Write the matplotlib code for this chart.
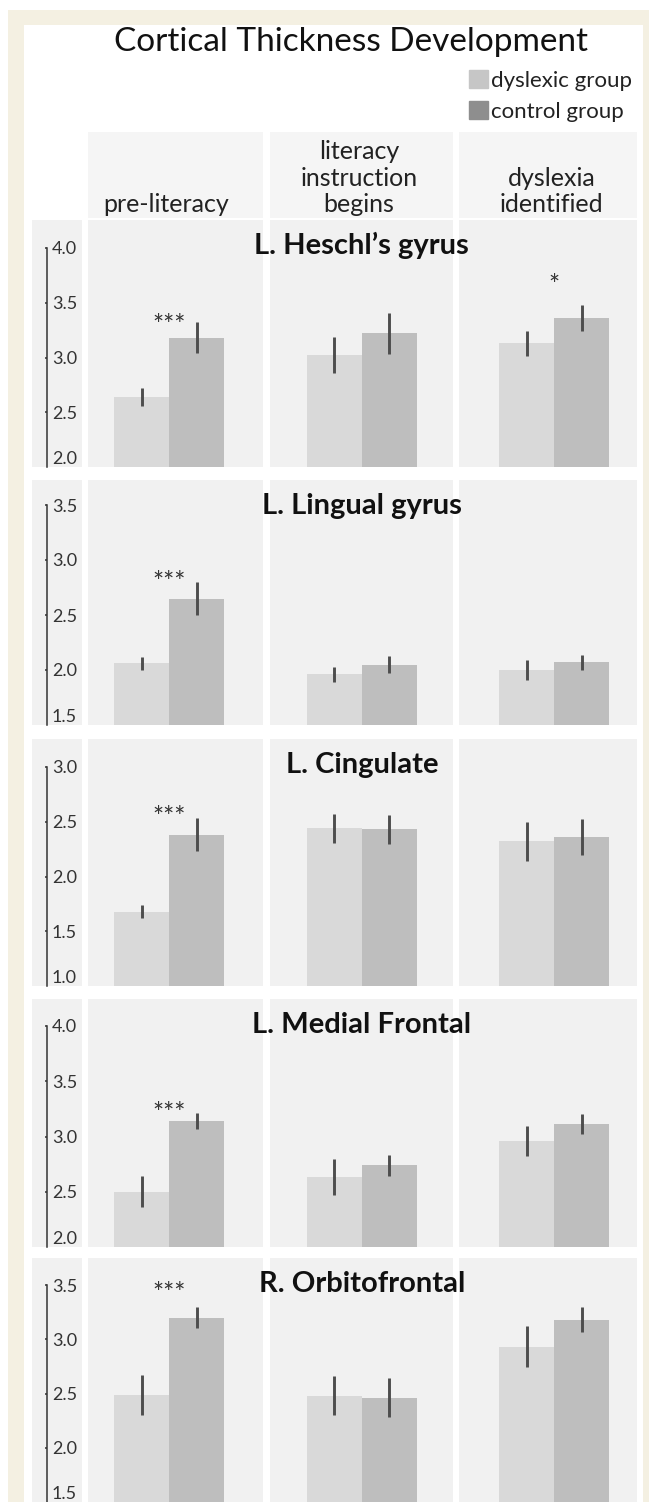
import matplotlib
matplotlib.use("Agg")
import matplotlib.pyplot as plt
import matplotlib.transforms as mtransforms
from matplotlib.patches import Rectangle, Patch
import numpy as np

plt.rcParams['font.family'] = ['Lato', 'DejaVu Sans']

W, H, DPI = 649, 1502, 100

# data
stages = ["pre-literacy", "literacy\ninstruction\nbegins", "dyslexia\nidentified"]
regions = ["L. Heschl\u2019s gyrus", "L. Lingual gyrus", "L. Cingulate",
           "L. Medial Frontal", "R. Orbitofrontal"]
groups = ["dyslexic group", "control group"]

dyslexic_mean = [[2.64, 3.02, 3.13],
                 [2.06, 1.96, 2.00],
                 [1.68, 2.44, 2.32],
                 [2.50, 2.635, 2.96],
                 [2.485, 2.48, 2.93]]
dyslexic_err = [[0.085, 0.165, 0.115],
                [0.06, 0.07, 0.09],
                [0.056, 0.135, 0.175],
                [0.14, 0.165, 0.136],
                [0.185, 0.18, 0.19]]
control_mean = [[3.18, 3.22, 3.36],
                [2.65, 2.05, 2.07],
                [2.38, 2.43, 2.36],
                [3.14, 2.74, 3.11],
                [3.20, 2.46, 3.18]]
control_err = [[0.14, 0.19, 0.12],
               [0.15, 0.08, 0.07],
               [0.15, 0.135, 0.165],
               [0.075, 0.097, 0.09],
               [0.10, 0.18, 0.115]]
y_ranges = [(2.0, 4.0), (1.5, 3.5), (1.0, 3.0), (2.0, 4.0), (1.5, 3.5)]
sig_marks = [["***", "", "*"], ["***", "", ""], ["***", "", ""],
             ["***", "", ""], ["***", "", ""]]
sig_y = [[3.36, None, 3.726], [2.864, None, None], [2.606, None, None],
         [3.279, None, None], [3.493, None, None]]

dys_color = "#d9d9d9"
ctl_color = "#bebebe"
legend_colors = ["#c6c6c6", "#8e8e8e"]
panel_color = "#f1f1f1"
head_color = "#f5f5f5"
ink = "#333333"

# layout in pixels
row_top = [220, 480, 739, 999, 1258]
row_tick_top = [248, 505, 767, 1026, 1285]
row_bottom = [467, 725, 986, 1247, 1502]
col_x = [(88, 263), (270, 453), (459, 637)]


def frect(x0, y0, x1, y1):
    return [x0 / W, 1 - y1 / H, (x1 - x0) / W, (y1 - y0) / H]


def bg(fig, x0, y0, x1, y1, color, z=-1):
    l, b, w, h = frect(x0, y0, x1, y1)
    fig.add_artist(Rectangle((l, b), w, h, transform=fig.transFigure,
                             color=color, zorder=z, lw=0))


fig = plt.figure(figsize=(W / DPI, H / DPI), dpi=DPI, facecolor="white")

# cream frame
bg(fig, 8, 10, 649, 1510, "#f4f0e2", z=-3)
bg(fig, 24, 25, 643, 1510, "white", z=-2)

# header panels
for x0, x1 in col_x:
    bg(fig, x0, 132, x1, 218, head_color)

fig.text(351 / W, 1 - 51 / H, "Cortical Thickness Development",
         ha="center", va="baseline", fontsize=24, color="#111111")

handles = [Patch(color=c) for c in legend_colors]
fig.legend(handles, groups, loc="upper left",
           bbox_to_anchor=(469 / W, 1 - 70 / H), frameon=False,
           borderpad=0, borderaxespad=0, handlelength=0.86,
           handleheight=0.9, handletextpad=0.15, labelspacing=0.45,
           prop={"size": 16}, labelcolor="#222222")

x = np.arange(3)
bw = 55 / 192.5
xlim = (-(169.3 - 88) / 192.5, 2 + (637 - 554.3) / 192.5)

for r in range(5):
    top, ttop, bot = row_top[r], row_tick_top[r], row_bottom[r]
    ymin, ymax = y_ranges[r]

    # panel backgrounds
    bg(fig, 32, top, 82, bot, panel_color)
    for x0, x1 in col_x:
        bg(fig, x0, top, x1, bot, panel_color)

    ax = fig.add_axes(frect(88, ttop, 637, bot))
    ax.set_facecolor("none")
    ax.set_xlim(*xlim)
    ax.set_ylim(ymin, ymax)
    for s in ax.spines.values():
        s.set_visible(False)
    ax.set_xticks([])
    ax.set_yticks([])

    ax.bar(x - bw / 2, dyslexic_mean[r], width=bw, color=dys_color, lw=0)
    ax.bar(x + bw / 2, control_mean[r], width=bw, color=ctl_color, lw=0)
    ax.errorbar(x - bw / 2, dyslexic_mean[r], yerr=dyslexic_err[r], fmt="none",
                ecolor="#4d4d4d", elinewidth=2.1, capsize=0)
    ax.errorbar(x + bw / 2, control_mean[r], yerr=control_err[r], fmt="none",
                ecolor="#4d4d4d", elinewidth=2.1, capsize=0)

    for i in range(3):
        if sig_marks[r][i]:
            ax.annotate(sig_marks[r][i], (i, sig_y[r][i]), xytext=(0, -6),
                        textcoords="offset points", ha="center", va="center",
                        fontsize=19, color=ink, annotation_clip=False)

    blend = mtransforms.blended_transform_factory(ax.transData, fig.transFigure)
    ax.text(1, 1 - (top + 34) / H, regions[r], transform=blend, ha="center",
            va="baseline", fontsize=21, fontweight="bold", color="#111111")

    if r == 0:
        for i, lab in enumerate(stages):
            ax.text(i - 0.015, 1 - 216 / H, lab, transform=blend, ha="center",
                    va="bottom", fontsize=18, color="#222222",
                    linespacing=1.18)

    # y axis: line with ticks to the left, labels to the right
    ay = fig.add_axes(frect(47, ttop, 48, bot))
    ay.set_facecolor("none")
    ay.set_ylim(ymin, ymax)
    ay.set_xticks([])
    for k in ["top", "right", "bottom"]:
        ay.spines[k].set_visible(False)
    ay.spines["left"].set_color(ink)
    ay.spines["left"].set_linewidth(1.1)
    ticks = np.arange(ymin, ymax + 0.01, 0.5)
    ay.set_yticks(ticks)
    ay.set_yticklabels([f"{t:.1f}" for t in ticks])
    ay.tick_params(axis="y", left=True, right=False, labelleft=False,
                   labelright=True, direction="out", length=1.8, width=1.1,
                   color=ink, pad=0.9, labelsize=13, labelcolor=ink)
    ay.yaxis.get_major_ticks()[0].tick1line.set_visible(False)
    ay.get_yticklabels()[0].set_va("bottom")

fig.savefig("out.png", dpi=DPI, facecolor=fig.get_facecolor())
